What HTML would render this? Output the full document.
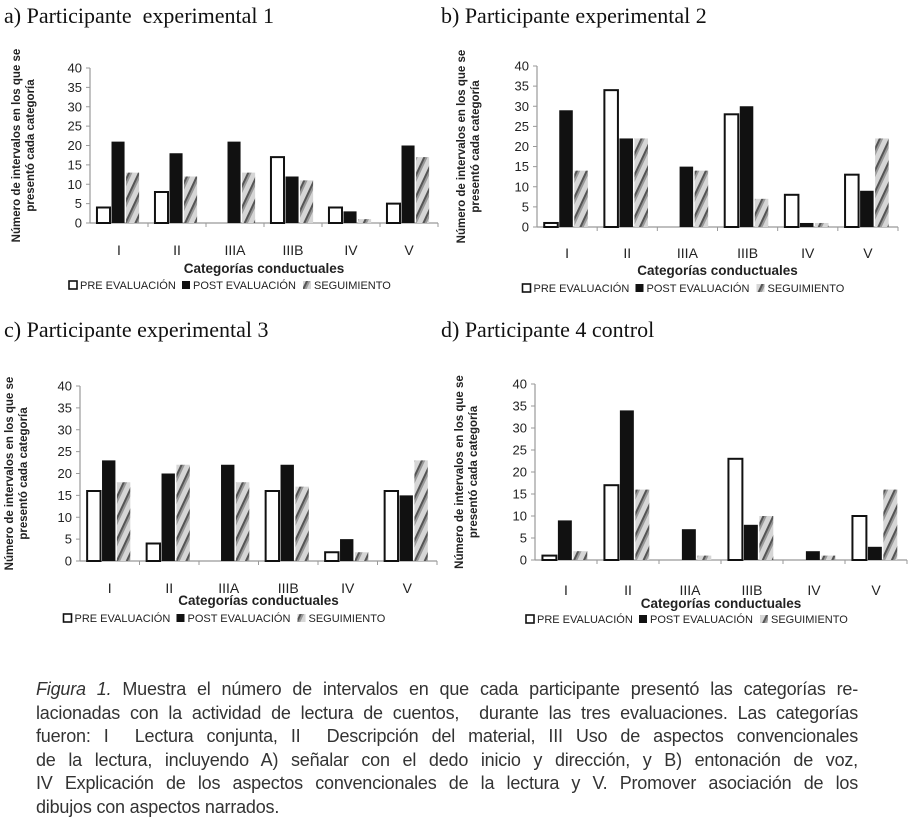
<!DOCTYPE html>
<html><head><meta charset="utf-8">
<style>
body{margin:0;width:914px;height:823px;background:#fff;overflow:hidden;position:relative;font-family:"Liberation Sans",sans-serif}
.t{position:absolute;font-family:"Liberation Serif",serif;font-size:22px;color:#111;white-space:pre}
.cap{position:absolute;left:36px;width:822px;font-size:18px;color:#333;line-height:23.6px;top:678px;letter-spacing:-0.2px}
.cap div{text-align:justify;text-align-last:justify;white-space:nowrap}
.cap div.l{text-align-last:left}
svg{position:absolute;left:0;top:0}
</style></head><body>
<div class="t" style="left:4px;top:3px">a) Participante  experimental 1</div>
<div class="t" style="left:441px;top:3px">b) Participante experimental 2</div>
<div class="t" style="left:4px;top:317px">c) Participante experimental 3</div>
<div class="t" style="left:441px;top:317px">d) Participante 4 control</div>
<svg id="s" width="914" height="823">
<defs>
<pattern id="hat" patternUnits="userSpaceOnUse" width="9" height="9" patternTransform="rotate(25)">
<rect width="9" height="9" fill="#d6d6d6"/><rect x="0" width="2" height="9" fill="#555"/><rect x="2" width="2" height="9" fill="#999"/>
</pattern>
</defs>
</svg>
<div class="cap">
<div><i>Figura 1.</i> Muestra el número de intervalos en que cada participante presentó las categorías re-</div>
<div>lacionadas con la actividad de lectura de cuentos,&nbsp; durante las tres evaluaciones. Las categorías</div>
<div>fueron: I&nbsp; Lectura conjunta, II&nbsp; Descripción del material, III Uso de aspectos convencionales</div>
<div>de la lectura, incluyendo A) señalar con el dedo inicio y dirección, y B) entonación de voz,</div>
<div>IV Explicación de los aspectos convencionales de la lectura y V. Promover asociación de los</div>
<div class="l">dibujos con aspectos narrados.</div>
</div>
<script>
const categories=["I","II","IIIA","IIIB","IV","V"];
const yTicks=[0,5,10,15,20,25,30,35,40];
const preA=[4,8,0,17,4,5], postA=[21,18,21,12,3,20], segA=[13,12,13,11,1,17];
const preB=[1,34,0,28,8,13], postB=[29,22,15,30,1,9], segB=[14,22,14,7,1,22];
const preC=[16,4,0,16,2,16], postC=[23,20,22,22,5,15], segC=[18,22,18,17,2,23];
const preD=[1,17,0,23,0,10], postD=[9,34,7,8,2,3], segD=[2,16,1,10,1,16];
const NS="http://www.w3.org/2000/svg";
const svg=document.getElementById('s');
function el(t,a,p){const e=document.createElementNS(NS,t);for(const k in a)e.setAttribute(k,a[k]);(p||svg).appendChild(e);return e;}
function chart(id,ax,ax2,y0,y40,catY,titleY,legY,ytx,series){
 const g=el('g',{});
 
 
 const ys=v=>y0+(y40-y0)*v/40;
 const gw=(ax2-ax)/categories.length;
 yTicks.forEach(v=>{
  const t=el('text',{x:ax-8,y:ys(v)+4.5,'text-anchor':'end','font-size':13,fill:'#222'},g);t.textContent=v;
  
  
 });
 const yl=el('line',{x1:ax,y1:y40,x2:ax,y2:y0,stroke:'#999','stroke-width':1.2},g);
 
 
 const xl=el('line',{x1:ax,y1:y0,x2:ax2,y2:y0,stroke:'#999','stroke-width':1.2},g);
 
 
 yTicks.forEach(v=>el('line',{x1:ax-4,y1:ys(v),x2:ax,y2:ys(v),stroke:'#999'},g));
 const bw=gw*0.225, off=gw*0.12;
 categories.forEach((c,i)=>{
  const gx=ax+i*gw;
  el('line',{x1:gx+gw,y1:y0,x2:gx+gw,y2:y0+4,stroke:'#999'},g);
  const t=el('text',{x:gx+gw/2,y:catY,'text-anchor':'middle','font-size':14,fill:'#222'},g);t.textContent=c;
  
  
  const styles=[{fill:'#fff',stroke:'#111','stroke-width':2},{fill:'#111'},{fill:'url(#hat)'}];
  const names=['bar-pre','bar-post','bar-seg'];
  series.forEach((s,k)=>{
   const v=s[i]; if(v<=0)return;
   const x=gx+off+k*(bw+1.5);
   const r=el('rect',Object.assign({x:x,y:ys(v),width:bw,height:y0-ys(v)},styles[k]),g);
   
   
  });
 });
 const tt=el('text',{x:(ax+ax2)/2,y:titleY,'text-anchor':'middle','font-size':13.5,'font-weight':'bold',fill:'#222'},g);tt.textContent='Categorías conductuales';
 
 
 const yc=(y0+y40)/2;
 const yt=el('text',{transform:`translate(${ytx},${yc}) rotate(-90)`,'text-anchor':'middle','font-size':11.5,'font-weight':'bold',fill:'#222'},g);
 
 
 const t1=el('tspan',{x:0,dy:-7},yt);t1.textContent='Número de intervalos en los que se';
 const t2=el('tspan',{x:0,dy:14},yt);t2.textContent='presentó cada categoría';
 const lx=(ax+ax2)/2-195;
 [['PRE EVALUACIÓN',{fill:'#fff',stroke:'#111','stroke-width':1.6}],['POST EVALUACIÓN',{fill:'#111'}],['SEGUIMIENTO',{fill:'url(#hat)'}]].forEach((L,k)=>{
  const x=lx+[0,113,234][k];
  const r=el('rect',Object.assign({x:x,y:legY-8,width:8,height:8},L[1]),g);
  
  
  const t=el('text',{x:x+11,y:legY,'font-size':11,fill:'#222'},g);t.textContent=L[0];
  
  
 });
}
chart('a',90,438,223,68,255,273,289,27,[preA,postA,segA]);
chart('b',537,898,227,66,258,275,292,472,[preB,postB,segB]);
chart('c',80,437,561,386,593,605,622,20,[preC,postC,segC]);
chart('d',535,907,560,384,595,608,623,470,[preD,postD,segD]);
</script>
</body></html>
